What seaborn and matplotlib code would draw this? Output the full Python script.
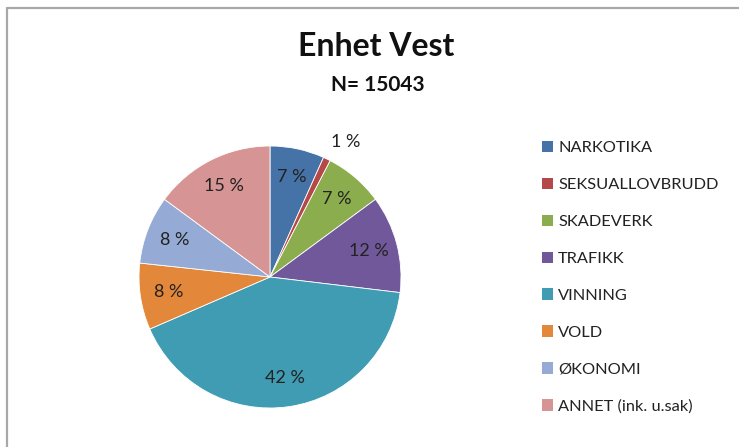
import matplotlib
matplotlib.use("Agg")
import matplotlib.pyplot as plt
import seaborn as sns
from matplotlib.lines import Line2D
from matplotlib.patches import Patch

# data (share of cases, %)
categories = ["NARKOTIKA", "SEKSUALLOVBRUDD", "SKADEVERK", "TRAFIKK",
              "VINNING", "VOLD", "ØKONOMI", "ANNET (ink. u.sak)"]
shares = [6.7, 0.9, 7.3, 12.0, 41.6, 8.2, 8.4, 14.9]
colors = ["#4572A7", "#B5494A", "#8CAD4E", "#71589A", "#409CB2",
          "#E3883A", "#95AAD4", "#D69594"]

sns.set_theme(style="white")
plt.rcParams["font.family"] = ["Lato", "DejaVu Sans"]
pal = sns.color_palette(colors)

W, H = 739, 447
fig = plt.figure(figsize=(W / 100, H / 100), dpi=100)
fig.patch.set_facecolor("white")

# pie axes: centre ~ (270, 277) px, radius ~131 px
r = 131
ax = fig.add_axes([(270 - r) / W, (H - 277 - r) / H, 2 * r / W, 2 * r / H])
wedges, texts, autotexts = ax.pie(
    shares, colors=pal, startangle=90, counterclock=False,
    autopct="%.0f %%", pctdistance=0.78,
    wedgeprops=dict(edgecolor="white", linewidth=0.6),
    textprops=dict(fontsize=13, color="#222222"))
ax.set_xlim(-1, 1)
ax.set_ylim(-1, 1)
ax.set_aspect("equal")

# the tiny slice gets its label outside
autotexts[1].set_position((0.58, 1.03))

fig.text(376 / W, 1 - 47 / H, "Enhet Vest", ha="center", va="center",
         fontsize=23, fontweight="bold", color="#111111")
fig.text(378 / W, 1 - 85 / H, "N= 15043", ha="center", va="center",
         fontsize=15, fontweight="bold", color="#111111")

handles = [Patch(facecolor=c, edgecolor="none") for c in pal]
fig.legend(handles, categories, loc="upper left",
           bbox_to_anchor=(527 / W, 1 - 126 / H), frameon=False,
           fontsize=11.8, labelspacing=1.37, handlelength=0.7,
           handleheight=0.7, handletextpad=0.3, labelcolor="#222222")

# chart frame edges visible in the screenshot
fig.add_artist(Line2D([7 / W, 7 / W], [0, 1 - 8 / H], color="#a8a8a8", lw=1.6))
fig.add_artist(Line2D([7 / W, 1], [1 - 8 / H, 1 - 8 / H], color="#a8a8a8", lw=1.6))

fig.savefig("out.png", dpi=100)
